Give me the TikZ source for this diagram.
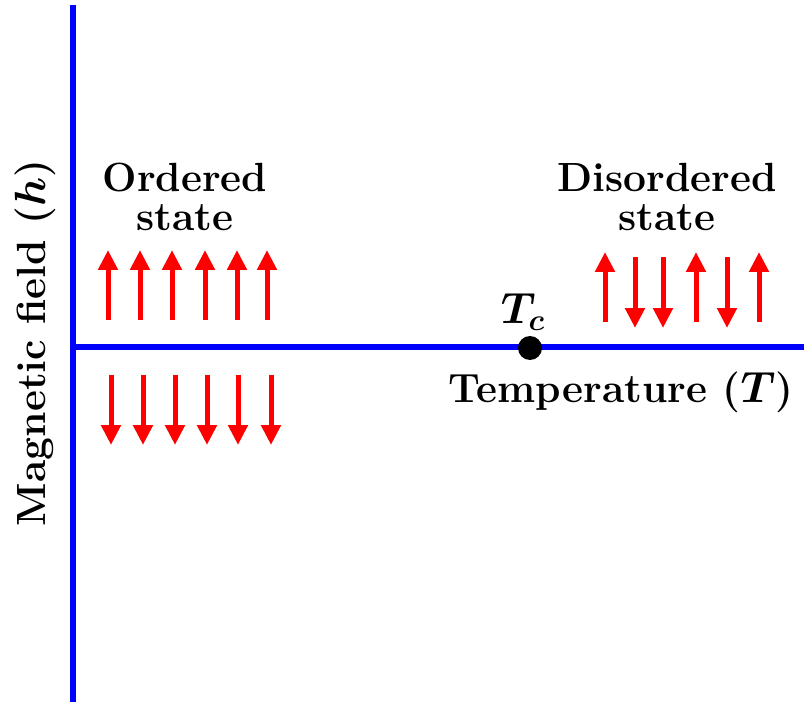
\documentclass[tikz,border=0pt]{standalone}
\usepackage{amsmath}
\usepackage{xcolor}
\usetikzlibrary{arrows.meta}

\begin{document}
\begin{tikzpicture}[
    x=0.02cm, y=-0.02cm,
    axis/.style={line width=0.11cm, color=blue},
    spin/.style={-{Triangle[width=0.38cm, length=0.4cm]}, line width=0.1cm, color=red},
    lbl/.style={font=\fontsize{23.2}{22.5}\selectfont\bfseries\boldmath, align=center, inner sep=0pt},
]
\useasboundingbox (0,0) rectangle (804,702);

% Axes
\coordinate (top) at (73,5);
\coordinate (bottom) at (73,702);
\coordinate (origin) at (73,347);
\coordinate (right) at (804,347);
\draw[axis] (top) -- (bottom);
\draw[axis] (origin) -- (right);

% Critical point
\node[circle, fill=black, minimum size=0.48cm, inner sep=0pt] (tc) at (530,348) {};
\node[lbl] (tclabel) at (523,312) {$T_c$};

% Labels
\node[lbl] (temp) at (621,392) {Temperature ($T$)};
\node[lbl, rotate=90] (field) at (35,343) {Magnetic field ($h$)};
\node[lbl] (ordered) at (185,197) {Ordered\\state};
\node[lbl] (disordered) at (667,197) {Disordered\\state};

% Ordered spins
\foreach \x in {108,140,172,205,237,267}
    \draw[spin] (\x,320) -- (\x,250);
\foreach \x in {111,143,175,207,238,271}
    \draw[spin] (\x,375) -- (\x,445);

% Disordered spins
\foreach \x in {605,696,759}
    \draw[spin] (\x,322) -- (\x,252);
\foreach \x in {635,663,727}
    \draw[spin] (\x,257) -- (\x,328);

\end{tikzpicture}
\end{document}
